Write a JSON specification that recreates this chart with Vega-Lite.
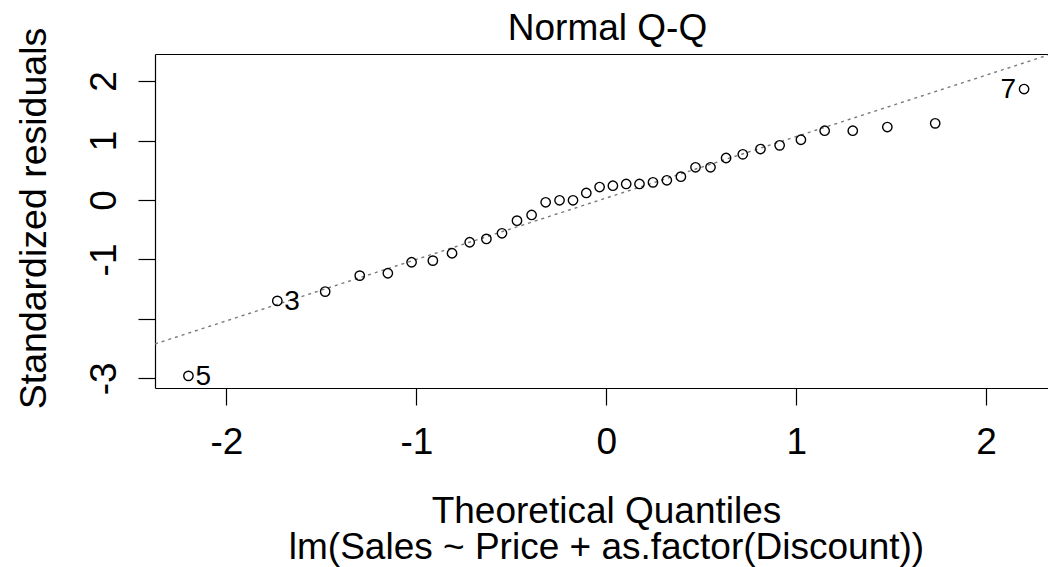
{
  "$schema": "https://vega.github.io/schema/vega-lite/v6.json",
  "autosize": {"type": "none"},
  "padding": {"left": 155, "top": 54, "right": 0, "bottom": 179},
  "width": 893,
  "height": 334,
  "background": "white",
  "config": {
    "view": {"stroke": null},
    "font": "Liberation Sans",
    "axis": {"grid": false, "domainColor": "black", "domainWidth": 1.2, "tickColor": "black", "tickWidth": 1.2, "labelColor": "black", "titleColor": "black", "labelFont": "Liberation Sans", "titleFont": "Liberation Sans", "titleFontWeight": "normal"}
  },
  "datasets": {
    "qq": [
      {"q": -2.200, "r": -2.958, "id": "5"},
      {"q": -1.732, "r": -1.697, "id": "3"},
      {"q": -1.480, "r": -1.541, "id": ""},
      {"q": -1.298, "r": -1.272, "id": ""},
      {"q": -1.150, "r": -1.232, "id": ""},
      {"q": -1.025, "r": -1.047, "id": ""},
      {"q": -0.913, "r": -1.020, "id": ""},
      {"q": -0.812, "r": -0.896, "id": ""},
      {"q": -0.719, "r": -0.711, "id": ""},
      {"q": -0.631, "r": -0.655, "id": ""},
      {"q": -0.549, "r": -0.560, "id": ""},
      {"q": -0.470, "r": -0.348, "id": ""},
      {"q": -0.393, "r": -0.252, "id": ""},
      {"q": -0.319, "r": -0.039, "id": ""},
      {"q": -0.246, "r": -0.005, "id": ""},
      {"q": -0.175, "r": -0.005, "id": ""},
      {"q": -0.105, "r": 0.118, "id": ""},
      {"q": -0.035, "r": 0.218, "id": ""},
      {"q": 0.035, "r": 0.240, "id": ""},
      {"q": 0.105, "r": 0.269, "id": ""},
      {"q": 0.175, "r": 0.269, "id": ""},
      {"q": 0.246, "r": 0.297, "id": ""},
      {"q": 0.319, "r": 0.331, "id": ""},
      {"q": 0.393, "r": 0.392, "id": ""},
      {"q": 0.470, "r": 0.550, "id": ""},
      {"q": 0.549, "r": 0.550, "id": ""},
      {"q": 0.631, "r": 0.706, "id": ""},
      {"q": 0.719, "r": 0.768, "id": ""},
      {"q": 0.812, "r": 0.857, "id": ""},
      {"q": 0.913, "r": 0.919, "id": ""},
      {"q": 1.025, "r": 1.013, "id": ""},
      {"q": 1.150, "r": 1.165, "id": ""},
      {"q": 1.298, "r": 1.165, "id": ""},
      {"q": 1.480, "r": 1.227, "id": ""},
      {"q": 1.732, "r": 1.289, "id": ""},
      {"q": 2.200, "r": 1.866, "id": "7"}
    ],
    "qqline": [
      {"q": -2.376, "r": -2.421, "q2": 2.326, "r2": 2.436}
    ]
  },
  "resolve": {"axis": {"x": "independent"}},
  "layer": [
    {
      "data": {"name": "qqline"},
      "mark": {"type": "rule", "color": "#7a7a7a", "strokeWidth": 1.4, "strokeDash": [3, 4], "clip": true},
      "encoding": {
        "x": {"field": "q", "type": "quantitative", "scale": {"domain": [-2.376, 2.326], "nice": false, "zero": false},
              "axis": {"orient": "top", "labels": false, "ticks": false, "domain": true,
                       "title": "Normal Q-Q", "titleFontSize": 37, "titleBaseline": "alphabetic", "titleAlign": "center", "titleX": 452, "titleY": -15}},
        "y": {"field": "r", "type": "quantitative", "scale": {"domain": [-3.162, 2.455], "nice": false, "zero": false}},
        "x2": {"field": "q2"},
        "y2": {"field": "r2"}
      }
    },
    {
      "data": {"name": "qq"},
      "mark": {"type": "point", "shape": "circle", "filled": false, "stroke": "black", "strokeWidth": 1.4, "size": 88, "opacity": 1},
      "encoding": {
        "x": {"field": "q", "type": "quantitative", "scale": {"domain": [-2.376, 2.326], "nice": false, "zero": false},
              "axis": {"orient": "bottom", "values": [-2, -1, 0, 1, 2], "labelExpr": "'' + datum.value", "tickSize": 17, "labelPadding": 48, "labelBaseline": "alphabetic", "labelFontSize": 37, "labelFlush": false,
                       "title": ["Theoretical Quantiles", "lm(Sales ~ Price + as.factor(Discount))"], "titleFontSize": 37, "titleBaseline": "alphabetic", "titleAlign": "center", "titleAnchor": "middle", "titleX": 451, "titleY": 134, "titleLineHeight": 36}},
        "y": {"field": "r", "type": "quantitative", "scale": {"domain": [-3.162, 2.455], "nice": false, "zero": false},
              "axis": {"orient": "left", "values": [-3, -2, -1, 0, 1, 2], "labelExpr": "datum.value == -2 ? '' : '' + datum.value", "tickSize": 17, "labelPadding": 23, "labelAngle": 270, "labelAlign": "center", "labelBaseline": "alphabetic", "labelFontSize": 37, "labelFlush": false, "labelOverlap": false,
                       "title": "Standardized residuals", "titleFontSize": 37.5, "titleAngle": 270, "titleBaseline": "alphabetic", "titleAlign": "center", "titleX": -110, "titleY": 164}}
      }
    },
    {
      "data": {"name": "qq"},
      "transform": [{"filter": "datum.id == '5' || datum.id == '3'"}],
      "mark": {"type": "text", "align": "left", "baseline": "middle", "dx": 7, "dy": 1, "fontSize": 28, "font": "Liberation Sans", "color": "black"},
      "encoding": {
        "x": {"field": "q", "type": "quantitative", "axis": null},
        "y": {"field": "r", "type": "quantitative"},
        "text": {"field": "id"}
      }
    },
    {
      "data": {"name": "qq"},
      "transform": [{"filter": "datum.id == '7'"}],
      "mark": {"type": "text", "align": "right", "baseline": "middle", "dx": -8, "dy": 1, "fontSize": 28, "font": "Liberation Sans", "color": "black"},
      "encoding": {
        "x": {"field": "q", "type": "quantitative", "axis": null},
        "y": {"field": "r", "type": "quantitative"},
        "text": {"field": "id"}
      }
    }
  ]
}
